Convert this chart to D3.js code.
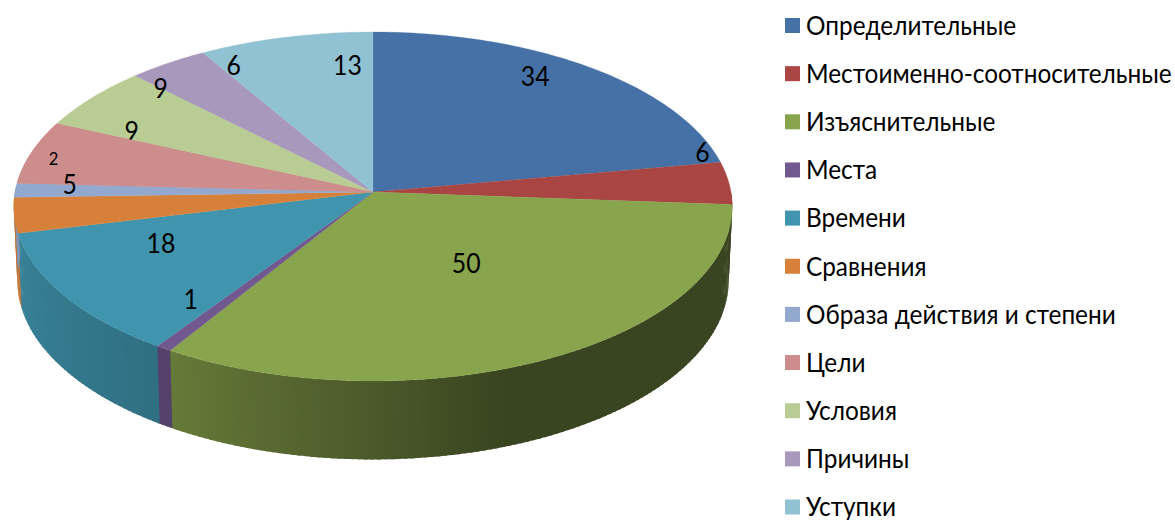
<!DOCTYPE html>
<html>
<head>
<meta charset="utf-8">
<script src="https://cdn.jsdelivr.net/npm/d3@7"></script>
<style>
    body { margin: 0; background: #fff; }
    svg text { font-family: Lato, "Noto Sans", sans-serif; fill: #000; }
</style>
</head>
<body>
<div id="chart"></div>
<script>
// chart data
const categories = ["Определительные", "Местоименно-соотносительные", "Изъяснительные", "Места", "Времени",
    "Сравнения", "Образа действия и степени", "Цели", "Условия", "Причины", "Уступки"];
const values = [34, 6, 50, 1, 18, 5, 2, 9, 9, 6, 13];
const colors = ["#4571a6", "#a94543", "#88a44c", "#71588f", "#4094ad", "#d7803a", "#92a8cf", "#cd8d8c", "#b8cc93", "#a899bc", "#91c2d3"];

// nudges from the default label spot, the picture does not follow a rule here
const labelDx = [8, 80, -27, -39, 1, -53, -69, -1, -13, 7, 37];
const labelDy = [-26, -33, -42, 1, -20, -24, -32, -32, -37, -35, -16];
const labelSize = [27, 27, 27, 27, 27, 27, 18, 27, 27, 27, 27];

const width = 1175, height = 520;

// Lato is wider than the font in the picture
const textSqueeze = 0.92;

// perspective of the disc
const cx = 373, cy = 192;
const rx = 358, ry = 173.3;
const persp = 0.0831;
const drop = 74.6, dropW = 0.01;

function project(angle, r, lower) {
    let u = r * Math.sin(angle),
        v = r * Math.cos(angle),
        w = 1 + persp * v + (lower ? dropW : 0);
    return [cx + rx * u / w, cy + (-ry * v + (lower ? drop : 0)) / w];
}

const deg = Math.PI / 180;

const svg = d3.select("#chart").append("svg")
    .attr("width", width)
    .attr("height", height)
    .style("display", "block");

const pie = d3.pie().sort(null).value(d => d)(values);
const line = d3.line();

// side wall gets darker toward the right
const shade = d3.scaleLinear()
    .domain([160, 180, 212, 257])
    .range([0.42, 0.55, 0.75, 0.88])
    .clamp(true);

function arcAngles(a0, a1) {
    let n = Math.max(2, Math.ceil((a1 - a0) / deg));
    return d3.range(n + 1).map(i => a0 + (a1 - a0) * i / n);
}

// side wall, thin strips so the shading can change along it
// every strip runs a bit under the next one, otherwise the seams show
const side = svg.append("g");
pie.forEach(function (d, i) {
    let a0 = Math.max(d.startAngle, 90 * deg),
        a1 = Math.min(d.endAngle, 272 * deg);
    if (a1 <= a0) return;
    let steps = arcAngles(a0, a1);
    d3.pairs(steps).forEach(function (p) {
        let c = d3.rgb(colors[i]),
            k = shade(p[0] / deg),
            fill = d3.rgb(c.r * k, c.g * k, c.b * k).formatHex(),
            end = p[1] + deg * 0.5;
        side.append("path")
            .attr("d", line([project(p[0], 1), project(end, 1), project(end, 1, true), project(p[0], 1, true)]) + "Z")
            .attr("fill", fill);
    });
});

// top face
function facePath(d) {
    let rim = arcAngles(d.startAngle, d.endAngle).map(a => project(a, 1));
    return line([[cx, cy]].concat(rim)) + "Z";
}

const faces = svg.append("g");
pie.forEach(function (d, i) {
    faces.append("path")
        .attr("d", facePath(d))
        .attr("fill", colors[i])
        .attr("stroke", colors[i])
        .attr("stroke-width", 0.3);
});

function addLabel(i) {
    let d = pie[i],
        p = project((d.startAngle + d.endAngle) / 2, 0.7);
    svg.append("text")
        .attr("transform", "translate(" + (p[0] + labelDx[i]) + "," + (p[1] + labelDy[i]) + ") scale(" + textSqueeze + ",1)")
        .attr("dy", "0.35em")
        .attr("text-anchor", "middle")
        .style("font-size", labelSize[i] + "px")
        .text(values[i]);
}

// the "9" of Цели has its foot cut off by its own slice in the picture
addLabel(7);
svg.append("path")
    .attr("d", facePath(pie[7]))
    .attr("fill", colors[7]);
values.forEach(function (v, i) {
    if (i !== 7) addLabel(i);
});

// legend
const legendY = d3.scalePoint()
    .domain(categories)
    .range([25.5, 507]);

const legend = svg.selectAll(".legend-item")
    .data(categories)
    .enter().append("g")
    .attr("class", "legend-item")
    .attr("transform", d => "translate(785," + legendY(d) + ")");

legend.append("rect")
    .attr("y", -7.5)
    .attr("width", 15)
    .attr("height", 15)
    .attr("fill", (d, i) => colors[i]);

legend.append("text")
    .attr("transform", "translate(21,0) scale(" + textSqueeze + ",1)")
    .attr("dy", "0.35em")
    .style("font-size", "26.5px")
    .text(d => d);
</script>
</body>
</html>
